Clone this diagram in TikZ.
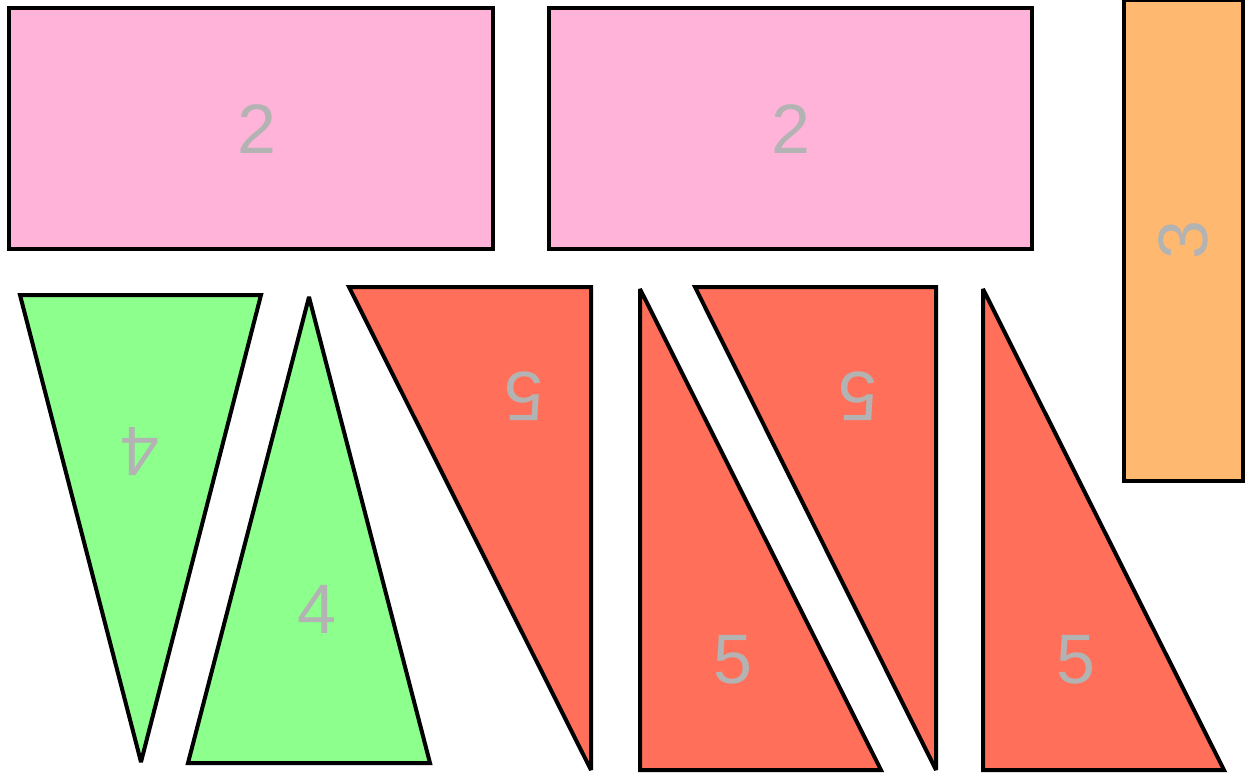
\documentclass[tikz,border=0pt]{standalone}
\usepackage{fontspec}
\setmainfont{Liberation Sans}
\definecolor{pinkf}{RGB}{255,179,217}
\definecolor{greenf}{RGB}{140,255,140}
\definecolor{redf}{RGB}{255,111,89}
\definecolor{orangef}{RGB}{255,184,112}
\definecolor{labelc}{RGB}{179,179,179}
\begin{document}
\begin{tikzpicture}[x=1pt,y=-1pt,
  piece/.style={draw=black,line width=4pt,line join=miter,miter limit=2},
  lbl/.style={text=labelc,font=\fontsize{70}{84}\selectfont,inner sep=0pt}]
\useasboundingbox (0,0) rectangle (1248,773);
% pink rectangles
\draw[piece,fill=pinkf] (9,8) rectangle (493,249);
\draw[piece,fill=pinkf] (549,8) rectangle (1032,249);
% orange rectangle
\draw[piece,fill=orangef] (1124,0) rectangle (1243,481);
% green triangles
\draw[piece,fill=greenf] (20,295) -- (261,295) -- (141,762) -- cycle;
\draw[piece,fill=greenf] (309,297) -- (430,763) -- (188,763) -- cycle;
% red triangles
\draw[piece,fill=redf] (349,287) -- (591,287) -- (591,770) -- cycle;
\draw[piece,fill=redf] (640,289) -- (881,770) -- (640,770) -- cycle;
\draw[piece,fill=redf] (695,287) -- (936,287) -- (936,770) -- cycle;
\draw[piece,fill=redf] (983,289) -- (1224,770) -- (983,770) -- cycle;
% labels
\node[lbl] (l1) at (257,129) {2};
\node[lbl] (l2) at (791,129) {2};
\node[lbl,rotate=90] (l3) at (1183,240) {3};
\node[lbl,rotate=180] (l4) at (140,452) {4};
\node[lbl] (l5) at (317,609) {4};
\node[lbl,rotate=180] (l6) at (524,396) {5};
\node[lbl,rotate=180] (l7) at (858,396) {5};
\node[lbl] (l8) at (733,660) {5};
\node[lbl] (l9) at (1076,660) {5};
\end{tikzpicture}
\end{document}
